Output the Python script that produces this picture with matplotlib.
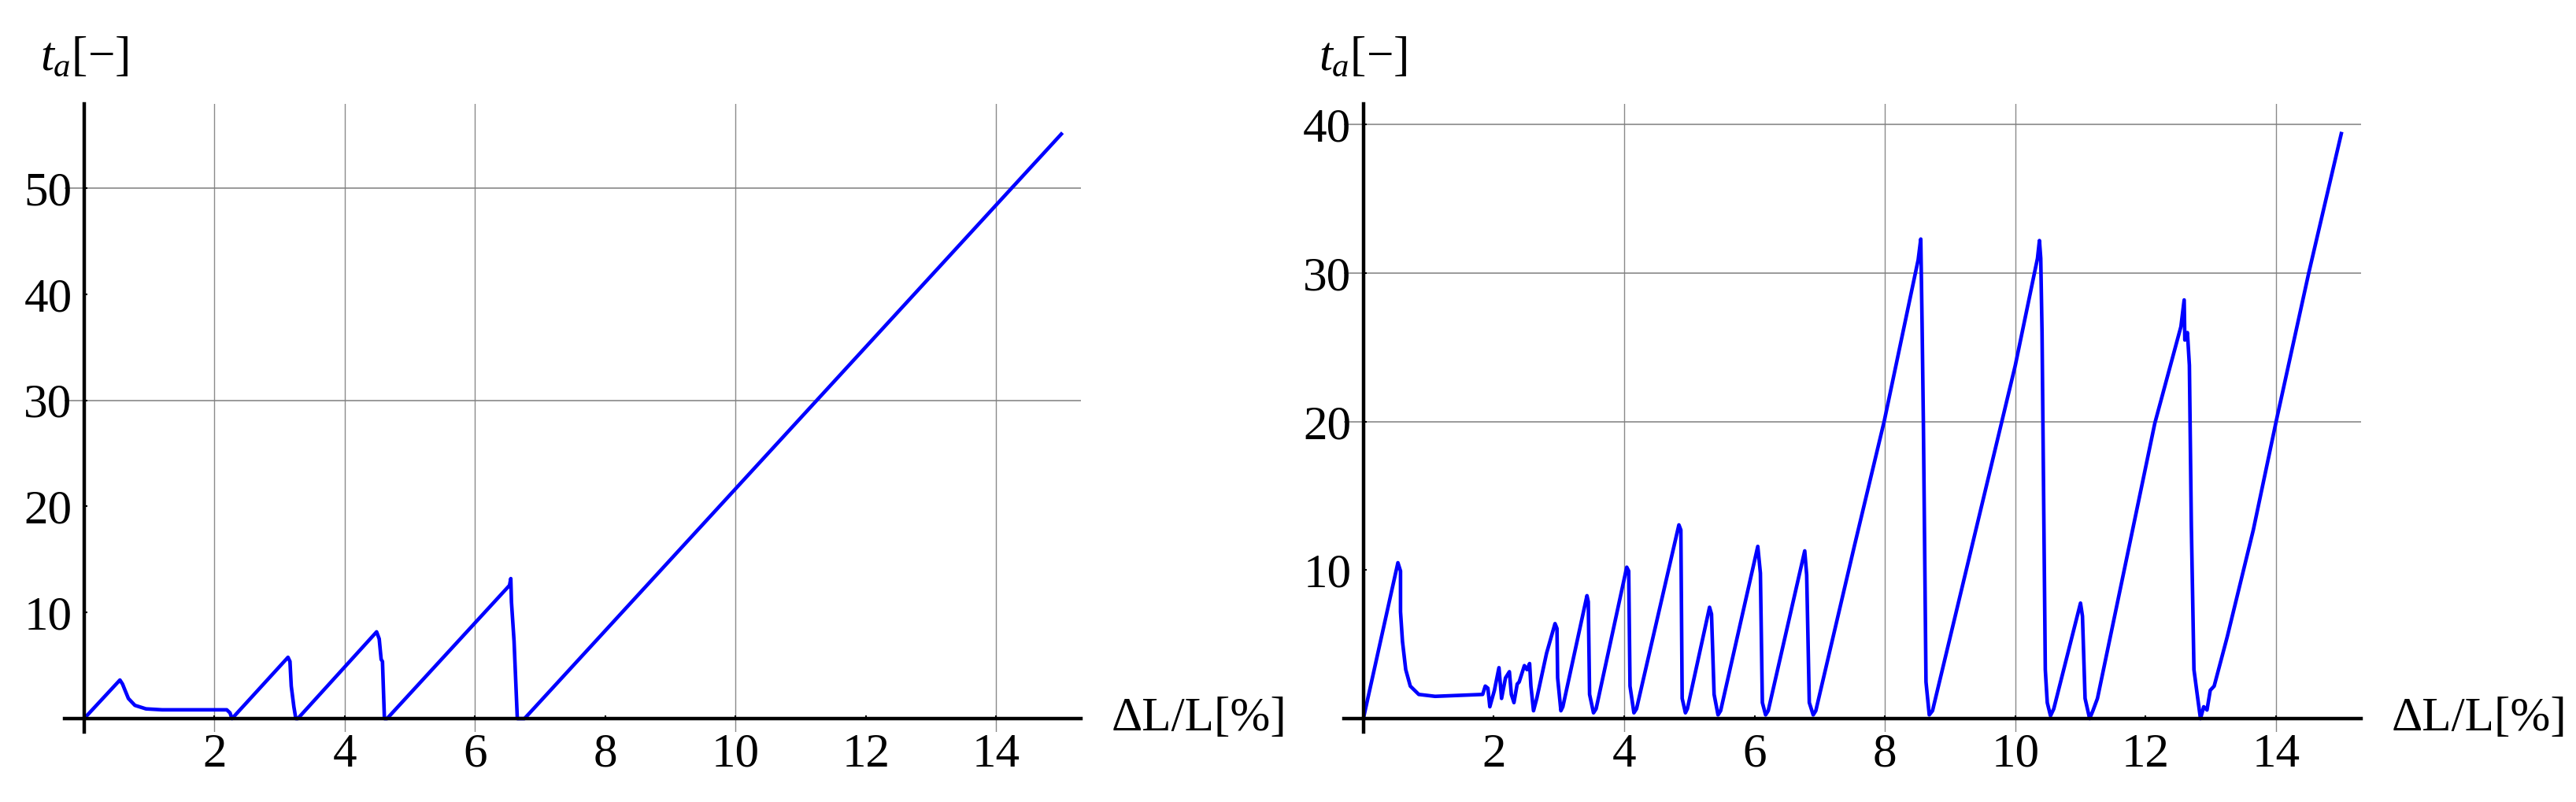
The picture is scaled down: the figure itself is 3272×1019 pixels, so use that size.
#!/usr/bin/env python

import matplotlib
matplotlib.use('Agg')
import matplotlib.pyplot as plt
import matplotlib.transforms as mtransforms


# left panel curve (strain in %, t_a)
leftStrain = [0, 0.55, 0.59, 0.62, 0.68, 0.78, 0.95, 1.2, 2.19, 2.24, 2.27,
              3.13, 3.16, 3.18, 3.22, 3.25, 3.28,
              4.49, 4.53, 4.56, 4.58, 4.61, 4.65,
              6.53, 6.55, 6.56, 6.60, 6.65, 6.76, 15.0]
leftTa = [0, 3.64, 3.26, 2.8, 1.9, 1.25, 0.92, 0.83, 0.83, 0.54, 0,
          5.78, 5.39, 3.06, 1.12, 0, 0,
          8.18, 7.52, 5.58, 5.39, 0, 0,
          12.56, 13.2, 11.0, 7.3, 0, 0, 55.1]

# right panel curve
rightStrain = [0, 0.53, 0.57, 0.57, 0.60, 0.65, 0.72, 0.85, 1.10, 1.83,
               1.87, 1.91, 1.94, 2.01, 2.08, 2.12, 2.18, 2.24, 2.27, 2.31,
               2.36, 2.39, 2.47, 2.51, 2.55, 2.57, 2.61, 2.66, 2.81, 2.94,
               2.97, 2.98, 3.03, 3.06, 3.43, 3.45, 3.47, 3.53, 3.57, 4.04,
               4.07, 4.09, 4.15, 4.19, 4.84, 4.87, 4.89, 4.94, 4.97, 5.31,
               5.34, 5.38, 5.44, 5.48, 6.05, 6.09, 6.12, 6.17, 6.21, 6.77,
               6.80, 6.84, 6.90, 6.94, 7.53, 7.99, 8.51, 8.55, 8.57, 8.59,
               8.63, 8.68, 8.73, 10.0, 10.34, 10.37, 10.39, 10.41, 10.46, 10.49,
               10.54, 10.59, 11.0, 11.03, 11.07, 11.14, 11.19, 11.26, 12.14, 12.54,
               12.59, 12.60, 12.64, 12.67, 12.70, 12.74, 12.79, 12.84, 12.89, 12.94,
               12.99, 13.05, 13.25, 13.65, 14.0, 14.5, 15.0]
rightTa = [0, 10.5, 9.94, 7.2, 5.2, 3.3, 2.19, 1.63, 1.5, 1.63,
           2.19, 2.05, 0.8, 1.9, 3.43, 1.36, 2.74, 3.16, 1.63, 1.08,
           2.33, 2.47, 3.57, 3.3, 3.71, 2.19, 0.53, 1.36, 4.4, 6.4,
           6.07, 2.74, 0.53, 0.8, 8.28, 7.87, 1.63, 0.39, 0.66, 10.2,
           9.94, 2.19, 0.39, 0.66, 13.05, 12.7, 1.36, 0.39, 0.66, 7.5,
           7.04, 1.63, 0.25, 0.53, 11.6, 9.8, 1.08, 0.25, 0.53, 11.3,
           9.67, 1.08, 0.25, 0.53, 11.6, 20.05, 30.9, 32.3, 26.6, 19.9,
           2.47, 0.25, 0.53, 23.8, 31.0, 32.2, 31.0, 26.0, 3.3, 1.08,
           0.19, 0.66, 7.78, 6.9, 1.36, 0.0, 0.53, 1.36, 19.9, 26.4,
           28.2, 25.5, 26.0, 23.8, 13.0, 3.3, 1.63, 0.0, 0.8, 0.58,
           1.91, 2.19, 5.5, 12.7, 20.0, 30.0, 39.4]

xTicks = [2, 4, 6, 8, 10, 12, 14]
leftYTicks = [10, 20, 30, 40, 50]
rightYTicks = [10, 20, 30, 40]

# grid lines only where the original draws them
leftGridX = [2, 4, 6, 10, 14]
leftGridY = [30, 50]
rightGridX = [4, 8, 10, 14]
rightGridY = [20, 30, 40]

xLabel = '\u0394L/L[%]'
yLabel = '$t_a$[\u2212]'


def setupAxes(ax, ylim, yTicks, gridX, gridY):
    ax.set_xlim(-0.3, 15.3)
    ax.set_ylim(*ylim)

    for gx in gridX:
        ax.axvline(gx, color='#8a8a8a', lw=1.0, zorder=1)
    for gy in gridY:
        ax.axhline(gy, color='#7f7f7f', lw=1.1, zorder=1)

    ax.spines['left'].set_position(('data', 0))
    ax.spines['bottom'].set_position(('data', 0))
    ax.spines['top'].set_visible(False)
    ax.spines['right'].set_visible(False)
    for side in ['left', 'bottom']:
        ax.spines[side].set_linewidth(3.2)
        ax.spines[side].set_zorder(3)

    ax.set_xticks(xTicks)
    ax.set_yticks(yTicks)
    ax.tick_params(axis='both', direction='in', length=3, width=1.5,
                   labelsize=44)
    ax.tick_params(axis='x', pad=13)
    ax.tick_params(axis='y', pad=11)
    for lab in ax.get_xticklabels() + ax.get_yticklabels():
        lab.set_family('Liberation Serif')

    # axis labels, Mathematica style: at the end of each axis
    xTrans = mtransforms.blended_transform_factory(ax.transAxes, ax.transData)
    ax.annotate(xLabel, xy=(1.0, 0), xycoords=xTrans,
                xytext=(28, 0), textcoords='offset points',
                ha='left', va='center', fontsize=44,
                family='Liberation Serif', annotation_clip=False)
    yTrans = mtransforms.blended_transform_factory(ax.transData, ax.transAxes)
    ax.annotate(yLabel, xy=(0, 1.0), xycoords=yTrans,
                xytext=(0, 22), textcoords='offset points',
                ha='center', va='bottom', fontsize=44,
                family='Liberation Serif', annotation_clip=False)
# END setupAxes()


def main():
    plt.rcParams['font.family'] = ['Liberation Serif', 'DejaVu Serif']
    plt.rcParams['mathtext.fontset'] = 'custom'
    plt.rcParams['mathtext.rm'] = 'Liberation Serif'
    plt.rcParams['mathtext.it'] = 'Liberation Serif:italic'

    fig = plt.figure(figsize=(32.73, 10.19), dpi=100)

    leftAx = fig.add_axes([0.02505, 0.0873, 0.3944, 0.7831])
    setupAxes(leftAx, (-1.26, 57.94), leftYTicks, leftGridX, leftGridY)
    leftAx.plot(leftStrain, leftTa, color='#0000ff', lw=3.3, zorder=2,
                clip_on=False)

    rightAx = fig.add_axes([0.5215, 0.0873, 0.3947, 0.7831])
    setupAxes(rightAx, (-0.90, 41.4), rightYTicks, rightGridX, rightGridY)
    rightAx.plot(rightStrain, rightTa, color='#0000ff', lw=3.3, zorder=2,
                 clip_on=False)

    fig.savefig('out.png', dpi=100)
# END main()


if __name__ == '__main__':
    main()
